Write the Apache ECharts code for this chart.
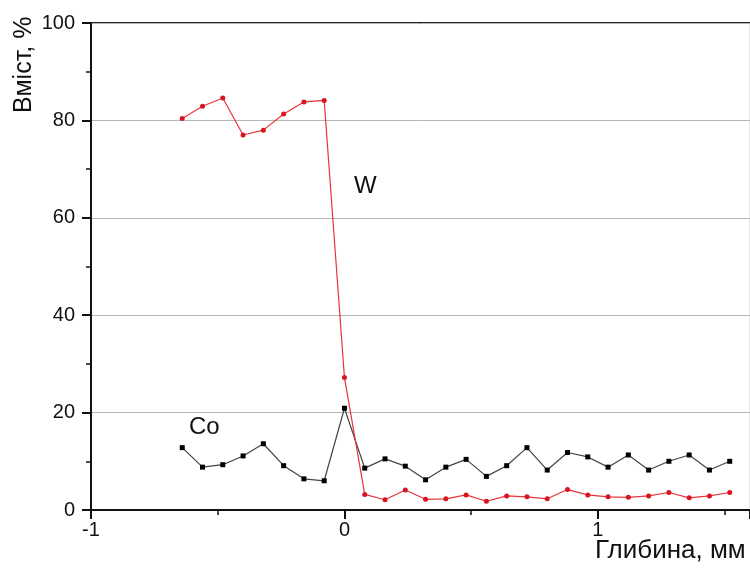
<!DOCTYPE html>
<html>
<head>
<meta charset="utf-8">
<script src="https://cdn.jsdelivr.net/npm/echarts@6/dist/echarts.min.js"></script>
<style>
  html, body { margin: 0; padding: 0; background: #fff; }
  #chart { width: 750px; height: 571px; }
</style>
</head>
<body>
<div id="chart"></div>
<script>
// depth, mm (step 0.08)
const depth = [-0.64, -0.56, -0.48, -0.40, -0.32, -0.24, -0.16, -0.08, 0,
  0.08, 0.16, 0.24, 0.32, 0.40, 0.48, 0.56, 0.64, 0.72, 0.80, 0.88, 0.96,
  1.04, 1.12, 1.20, 1.28, 1.36, 1.44, 1.52]
// вміст W, %
const wValues = [80.4, 82.9, 84.6, 77.0, 78.0, 81.3, 83.8, 84.1, 27.2,
  3.2, 2.1, 4.1, 2.2, 2.3, 3.1, 1.8, 2.9, 2.7, 2.3, 4.2, 3.1,
  2.7, 2.6, 2.9, 3.6, 2.5, 2.9, 3.6]
// вміст Co, %
const coValues = [12.8, 8.8, 9.3, 11.1, 13.6, 9.1, 6.4, 6.0, 20.9,
  8.6, 10.5, 9.0, 6.2, 8.8, 10.4, 6.9, 9.1, 12.8, 8.2, 11.8, 10.9,
  8.8, 11.3, 8.2, 10.0, 11.3, 8.2, 10.0]

const pairs = (xs, ys) => xs.map((x, i) => [x, ys[i]])

const chart = echarts.init(document.getElementById('chart'))
const font = 'Liberation Sans, Arial, sans-serif'

const option = {
  animation: false,
  backgroundColor: '#fff',
  grid: {
    left: 91,
    top: 23,
    width: 661,
    height: 487,
    show: true,
    borderColor: '#cfcfcf',
    borderWidth: 1
  },
  xAxis: {
    type: 'value',
    min: -1,
    max: 1.6,
    interval: 1,
    axisLine: { show: true, onZero: false, lineStyle: { color: '#111', width: 2 } },
    axisTick: { show: true, inside: false, length: 9, lineStyle: { color: '#111', width: 2 } },
    minorTick: { show: true, splitNumber: 2, length: 5, lineStyle: { color: '#111', width: 1.5 } },
    axisLabel: { color: '#111', fontSize: 20, fontFamily: font, margin: 10, showMaxLabel: false },
    splitLine: { show: false }
  },
  yAxis: {
    type: 'value',
    min: 0,
    max: 100,
    interval: 20,
    axisLine: { show: true, onZero: false, lineStyle: { color: '#111', width: 2 } },
    axisTick: { show: true, inside: false, length: 9, lineStyle: { color: '#111', width: 2 } },
    minorTick: { show: true, splitNumber: 2, length: 5, lineStyle: { color: '#111', width: 1.5 } },
    axisLabel: { color: '#111', fontSize: 20, fontFamily: font, margin: 16 },
    splitLine: { show: true, lineStyle: { color: '#b5b5b5', width: 1 } }
  },
  series: [
    {
      name: 'W',
      type: 'line',
      data: pairs(depth, wValues),
      symbol: 'circle',
      symbolSize: 5,
      lineStyle: { color: '#e8333b', width: 1.2 },
      itemStyle: { color: '#d8141e' },
      z: 3
    },
    {
      name: 'Co',
      type: 'line',
      data: pairs(depth, coValues),
      symbol: 'rect',
      symbolSize: 5,
      lineStyle: { color: '#444', width: 1.2 },
      itemStyle: { color: '#000' },
      z: 2
    }
  ],
  graphic: [
    {
      type: 'text', left: 354, top: 174,
      style: { text: 'W', fontSize: 24, fontFamily: font, fill: '#111' }
    },
    {
      type: 'text', left: 189, top: 415,
      style: { text: 'Co', fontSize: 24, fontFamily: font, fill: '#111' }
    },
    {
      type: 'text', left: 595, top: 538,
      style: { text: 'Глибина, мм', fontSize: 26, fontFamily: font, fill: '#111' }
    },
    {
      type: 'text', x: 12, y: 113, rotation: Math.PI / 2,
      style: { text: 'Вміст, %', fontSize: 25, fontFamily: font, fill: '#111' }
    },
    // верхня межа рамки
    {
      type: 'line', shape: { x1: 91, y1: 23, x2: 750, y2: 23 },
      style: { stroke: '#222', lineWidth: 2 }
    }
  ]
}

chart.setOption(option)
</script>
</body>
</html>
